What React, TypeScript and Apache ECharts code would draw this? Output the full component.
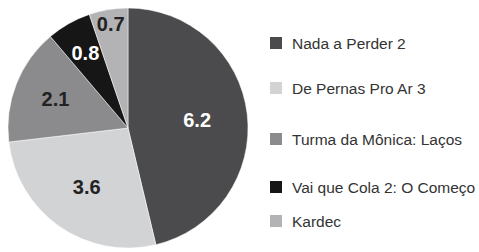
import React, { useEffect, useRef } from "react";
import * as echarts from "echarts";

const categories = [
  "Nada a Perder 2",
  "De Pernas Pro Ar 3",
  "Turma da Mônica: Laços",
  "Vai que Cola 2: O Começo",
  "Kardec",
];
const values = [6.2, 3.6, 2.1, 0.8, 0.7];
const colors = ["#4b4b4d", "#d2d3d5", "#8b8b8d", "#161616", "#b3b3b5"];
const labelColors = ["#ffffff", "#222222", "#222222", "#ffffff", "#222222"];
const legendTops = [35, 80, 131, 179, 213];
// radial distance of each value label from the pie centre (fraction of radius)
const labelRadiusFrac = [0.58, 0.6, 0.65, 0.72, 0.88];

const CX = 128;
const CY = 128;
const R = 120;

export default function App() {
  const ref = useRef<HTMLDivElement>(null);
  useEffect(() => {
    if (!ref.current) return;
    const chart = echarts.init(ref.current, undefined, { renderer: "svg" });
    chart.setOption({
      animation: false,
      backgroundColor: "#ffffff",
      legend: categories.map((c, i) => ({
        data: [c],
        left: 268,
        top: legendTops[i],
        padding: 0,
        orient: "vertical",
        icon: "rect",
        itemWidth: 14,
        itemHeight: 14,
        itemGap: 8,
        selectedMode: false,
        textStyle: {
          fontFamily: "Liberation Sans, Arial, sans-serif",
          fontSize: 15.5,
          color: "#333333",
          padding: [0, 0, 0, 4],
        },
      })),
      series: [
        {
          type: "pie",
          center: [CX, CY],
          radius: [0, R],
          startAngle: 90,
          clockwise: true,
          avoidLabelOverlap: false,
          itemStyle: { borderColor: "#ffffff", borderWidth: 0.5 },
          label: {
            show: true,
            position: "inside",
            formatter: "{c}",
            fontFamily: "Liberation Sans, Arial, sans-serif",
            fontSize: 20,
            fontWeight: "bold",
          },
          labelLayout: (params: any) => {
            const i = params.dataIndex;
            const lr = params.labelRect;
            const lx = lr.x + lr.width / 2;
            const ly = lr.y + lr.height / 2;
            const dx0 = lx - CX;
            const dy0 = ly - CY;
            const d = Math.sqrt(dx0 * dx0 + dy0 * dy0) || 1;
            const target = labelRadiusFrac[i] * R;
            return {
              dx: (dx0 / d) * (target - d),
              dy: (dy0 / d) * (target - d),
              hideOverlap: false,
            };
          },
          labelLine: { show: false },
          emphasis: { disabled: true },
          data: categories.map((c, i) => ({
            name: c,
            value: values[i],
            itemStyle: { color: colors[i] },
            label: { color: labelColors[i] },
          })),
        },
      ],
    });
    return () => chart.dispose();
  }, []);
  return (
    <div
      ref={ref}
      style={{ position: "fixed", left: 0, top: 0, width: 479, height: 252 }}
    />
  );
}
